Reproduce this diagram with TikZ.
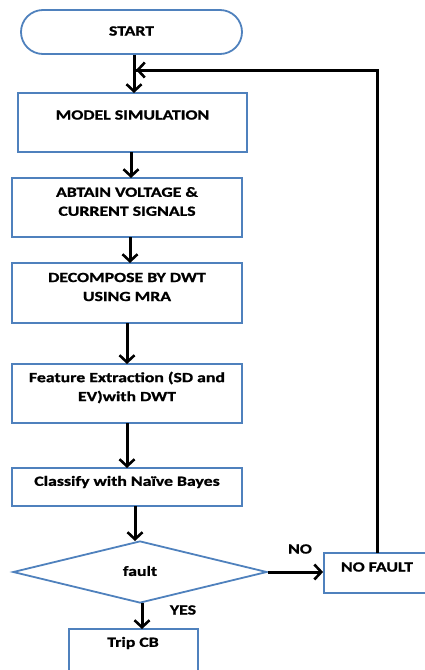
\documentclass[tikz,border=0pt]{standalone}
\usepackage{fontspec}
\setmainfont{Carlito}[FakeStretch=1.27,BoldFeatures={FakeBold=1.2}]
\usetikzlibrary{shapes.geometric,shapes.misc,arrows.meta}
\definecolor{bblue}{RGB}{79,129,189}
\tikzset{
  box/.style={draw=bblue, line width=1.8pt, rectangle, inner sep=0pt},
  lbl/.style={font=\bfseries\fontsize{14}{19}\selectfont, align=center, inner sep=0pt, anchor=center},
  arr/.style={line width=3pt, -{Straight Barb[length=7pt,width=15pt,line width=2.6pt]}},
  fl/.style={line width=3pt}
}
\begin{document}
\begin{tikzpicture}[x=1pt,y=-1pt]
\useasboundingbox (0,0) rectangle (425,670);
\clip (0,0) rectangle (425,670);
% nodes
\node[box, rounded rectangle, minimum width=221pt, minimum height=44pt] (start) at (131.5,32) {};
\node[lbl] (startT) at (131.5,31) {START};
\node[box, minimum width=229pt, minimum height=59pt] (ms) at (132.5,122.5) {};
\node[lbl] (msT) at (132.5,115) {MODEL SIMULATION};
\node[box, minimum width=230pt, minimum height=59pt] (ab) at (127,207.5) {};
\node[lbl] (abT) at (127,201.5) {ABTAIN VOLTAGE \&\\CURRENT SIGNALS};
\node[box, minimum width=230pt, minimum height=60pt] (de) at (127,293) {};
\node[lbl] (deT) at (127,287) {DECOMPOSE BY DWT\\USING MRA};
\node[box, minimum width=230pt, minimum height=59pt] (fe) at (127,393.5) {};
\node[lbl] (feT) at (127,387.5) {Feature Extraction (SD and\\EV)with DWT};
\node[box, minimum width=230pt, minimum height=38pt] (cl) at (127,487) {};
\node[lbl] (clT) at (127,482) {Classify with Naïve Bayes};
\node[box, diamond, minimum width=254pt, minimum height=62pt, aspect=4.1] (dm) at (140,572) {};
\node[lbl] (dmT) at (140,571) {fault};
\node[box, minimum width=116pt, minimum height=40pt] (nf) at (382,573) {};
\node[lbl] (nfT) at (377,567) {NO FAULT};
\node[box, minimum width=129pt, minimum height=60pt] (tr) at (133.5,659) {};
\node[lbl] (trT) at (133,643) {Trip CB};
\node[lbl] (noT) at (300,549) {NO};
\node[lbl] (yesT) at (183,610) {YES};
\coordinate (fb) at (134,70);
% connectors
\draw[arr] (start.south -| 134,0) -- (134,93);
\draw[fl] (377,553) |- (fb);
\draw[arr] (377,70) -- (136,70);
\draw[arr] (131,152) -- (131,178);
\draw[arr] (130,237) -- (130,263);
\draw[arr] (127,323) -- (127,364);
\draw[arr] (127,423) -- (127,468);
\draw[arr] (135,506) -- (135,541);
\draw[arr] (dm.east) -- (nf.west |- dm.east);
\draw[arr] (142,603) -- (142,629);
\end{tikzpicture}
\end{document}
